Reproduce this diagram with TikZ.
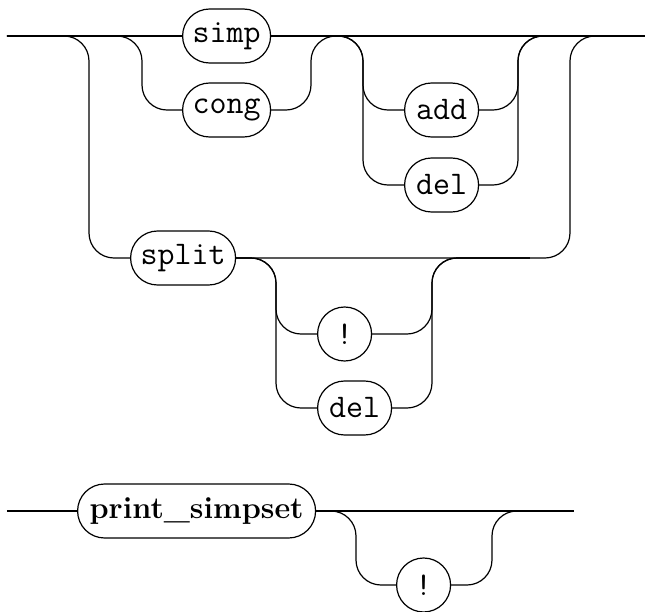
\documentclass[tikz,border=0pt]{standalone}
\usepackage{fontspec}
\begin{document}
\begin{tikzpicture}[x=0.5pt,y=-0.5pt,
  line width=0.6pt,
  rc/.style={rounded corners=12.5pt},
  term/.style={draw, rectangle, rounded corners=13.5pt, minimum height=27pt,
    inner sep=0pt, anchor=west, fill=white,
    font=\ttfamily\fontsize{16.5}{18}\selectfont},
  nterm/.style={draw, rectangle, rounded corners=13.5pt, minimum height=27pt,
    inner sep=0pt, anchor=west, fill=white,
    font=\bfseries\fontsize{15.3}{18}\selectfont}]
\useasboundingbox (0,0) rectangle (645,612);
% nodes
\node[term, minimum width=44pt] (simp) at (182,36) {simp};
\node[term, minimum width=44pt] (cong) at (182,110) {cong};
\node[term, minimum width=37pt] (add) at (404,110) {add};
\node[term, minimum width=37pt] (del) at (404,185) {del};
\node[term, minimum width=52.5pt] (split) at (130,258) {split};
\node[term, minimum width=27pt] (bang1) at (317,334) {!};
\node[term, minimum width=37pt] (del2) at (317,408) {del};
\node[nterm, minimum width=119pt] (ps) at (77,511) {print\_simpset};
\node[term, minimum width=27pt] (bang2) at (396,585) {!};
% free ends
\coordinate (in) at (7,36);
\coordinate (out) at (645,36);
\coordinate (sR) at (530,258);
\coordinate (in2) at (7,511);
\coordinate (out2) at (574,511);
% main line
\draw (in) -- (simp.west);
\draw (simp.east) -- (out);
% outer branch to split
\draw[rc] (in) -| (89,258) -- (split.west);
% inner branch to cong
\draw[rc] (in) -| (142,110) -- (cong.west);
\draw[rc] (cong.east) -| (311,36) -- (out);
% add / del
\draw[rc] (simp.east) -| (363,110) -- (add.west);
\draw[rc] (simp.east) -| (363,185) -- (del.west);
\draw[rc] (add.east) -| (518,36) -- (out);
\draw[rc] (del.east) -| (518,36) -- (out);
% split exit
\draw[rc] (split.east) -| (570,36) -- (out);
\draw[rc] (split.east) -| (276,334) -- (bang1.west);
\draw[rc] (split.east) -| (276,408) -- (del2.west);
\draw[rc] (bang1.east) -| (432,258) -- (sR);
\draw[rc] (del2.east) -| (432,258) -- (sR);
% bottom diagram
\draw (in2) -- (ps.west);
\draw (ps.east) -- (out2);
\draw[rc] (ps.east) -| (356,585) -- (bang2.west);
\draw[rc] (bang2.east) -| (492,511) -- (out2);
\end{tikzpicture}
\end{document}
